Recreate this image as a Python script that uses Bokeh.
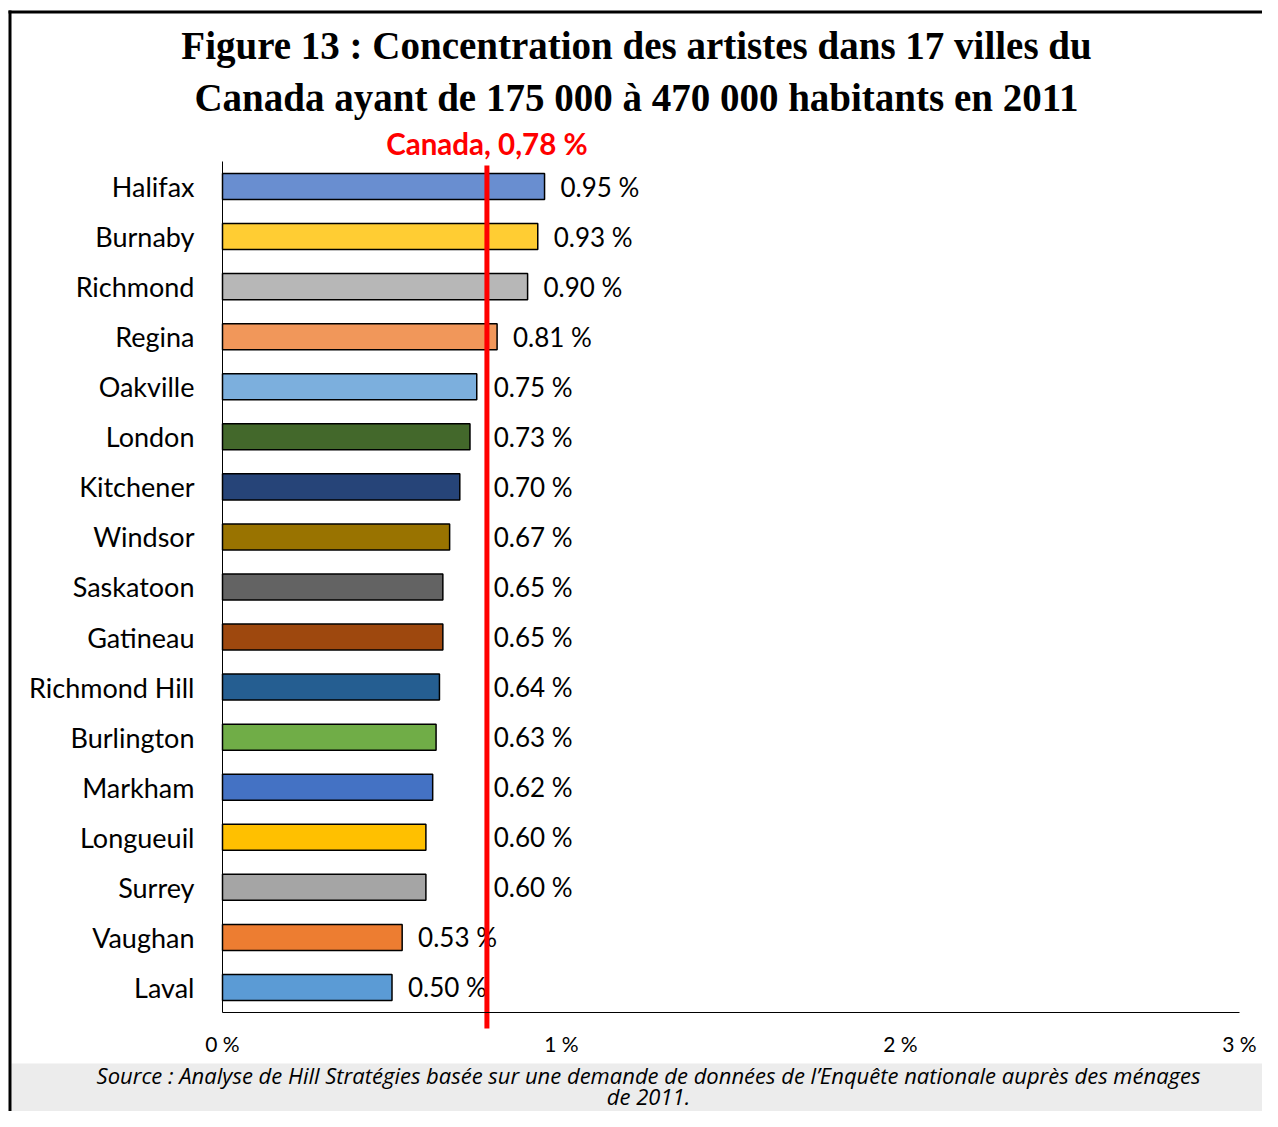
from bokeh.plotting import figure
from bokeh.models import ColumnDataSource, Range1d, FixedTicker, Label, BoxAnnotation
from bokeh.core.properties import value
from bokeh.embed import file_html
from bokeh.resources import INLINE

# ---------------- data ----------------
cities = ["Halifax", "Burnaby", "Richmond", "Regina", "Oakville", "London",
          "Kitchener", "Windsor", "Saskatoon", "Gatineau", "Richmond Hill",
          "Burlington", "Markham", "Longueuil", "Surrey", "Vaughan", "Laval"]
shares = [0.95, 0.93, 0.90, 0.81, 0.75, 0.73, 0.70, 0.67, 0.65, 0.65, 0.64,
          0.63, 0.62, 0.60, 0.60, 0.53, 0.50]
colors = ["#698ED0", "#FFCD33", "#B7B7B7", "#F1975A", "#7CAFDD", "#43682B",
          "#264478", "#997300", "#636363", "#9E480E", "#255E91", "#70AD47",
          "#4472C4", "#FFC000", "#A5A5A5", "#ED7D31", "#5B9BD5"]
canada_share = 0.78
canada_label = "Canada, 0,78 %"
x_ticks = [0, 1, 2, 3]
x_tick_labels = ["0 %", "1 %", "2 %", "3 %"]
title_lines = ["Figure 13 : Concentration des artistes dans 17 villes du",
               "Canada ayant de 175 000 à 470 000 habitants en 2011"]
source_lines = ["Source : Analyse de Hill Stratégies basée sur une demande de données de l\u2019Enquête nationale auprès des ménages",
                "de 2011."]

# ---------------- layout (pixels) ----------------
W, H = 1262, 1111
X0, XPX = 222.0, 339.0      # pixel of 0 %, pixels per 1 %
Y0, YPX = 186.0, 50.06      # pixel of first bar centre, pixels per bar


def X(px):
    return (px - X0) / XPX


def Y(py):
    return (py - Y0) / YPX


n = len(cities)
pos = list(range(n))
label_x = [max(v + 0.047, canada_share + 0.02) if v >= 0.6 else v + 0.047
           for v in shares]
label_text = ["%.2f %%" % v for v in shares]

src = ColumnDataSource(dict(pos=pos, share=shares, color=colors,
                            lx=label_x, lt=label_text))

p = figure(width=W, height=H, x_range=Range1d(X(0), X(W)),
           y_range=Range1d(Y(H), Y(0)), min_border=0,
           title_location=None, output_backend="svg", toolbar_location=None)
p.outline_line_color = None
p.xgrid.grid_line_color = None
p.ygrid.grid_line_color = None
p.background_fill_color = "white"
p.border_fill_color = "white"

# source box background and outer frame lines
p.add_layout(BoxAnnotation(left=11, right=W, top=H - 1063, bottom=0,
                           left_units="screen", right_units="screen",
                           top_units="screen", bottom_units="screen",
                           fill_color="#ECECEC", fill_alpha=1.0,
                           line_color=None, level="underlay"))
p.add_layout(BoxAnnotation(left=8, right=W, top=H - 10, bottom=H - 13,
                           left_units="screen", right_units="screen",
                           top_units="screen", bottom_units="screen",
                           fill_color="black", fill_alpha=1.0, line_color=None))
p.add_layout(BoxAnnotation(left=8, right=11, top=H - 10, bottom=0,
                           left_units="screen", right_units="screen",
                           top_units="screen", bottom_units="screen",
                           fill_color="black", fill_alpha=1.0, line_color=None))

# bars
p.hbar(y="pos", left=0, right="share", height=0.52, fill_color="color",
       line_color="black", line_width=1.5, source=src)

# value labels
p.text(x="lx", y="pos", text="lt", source=src, text_align="left",
       text_baseline="middle", text_font=value("Lato"),
       text_font_size=value("26px"), text_color="black")

# Canada reference line + label
p.segment(x0=[canada_share], x1=[canada_share], y0=[Y(165)], y1=[Y(1028)],
          line_color="#FF0000", line_width=5)
p.add_layout(Label(x=canada_share, y=Y(143), text=canada_label,
                   text_align="center", text_baseline="middle",
                   text_font="Lato", text_font_style="bold",
                   text_font_size="29.5px", text_color="#FF0000"))

# axes
ya = p.yaxis[0]
ya.fixed_location = 0
ya.bounds = (-0.5, n - 0.5)
ya.ticker = FixedTicker(ticks=pos)
ya.major_label_overrides = dict(zip(pos, cities))
ya.axis_line_color = "black"
ya.axis_line_width = 1
ya.major_tick_line_color = None
ya.minor_tick_line_color = None
ya.major_label_text_font = "Lato"
ya.major_label_text_font_size = "27px"
ya.major_label_text_color = "black"
ya.major_label_standoff = 22

xa = p.xaxis[0]
xa.fixed_location = n - 0.5
xa.bounds = (0, 3)
xa.ticker = FixedTicker(ticks=x_ticks)
xa.major_label_overrides = dict(zip(x_ticks, x_tick_labels))
xa.axis_line_color = "black"
xa.axis_line_width = 1
xa.major_tick_line_color = None
xa.minor_tick_line_color = None
xa.major_label_text_font = "Lato"
xa.major_label_text_font_size = "21px"
xa.major_label_text_color = "black"
xa.major_label_standoff = 13

# title
for i, t in enumerate(title_lines):
    p.add_layout(Label(x=X(636), y=Y(45 + 52 * i), text=t,
                       text_align="center", text_baseline="middle",
                       text_font="Liberation Serif", text_font_style="bold",
                       text_font_size="39px", text_color="black"))

# source
for i, t in enumerate(source_lines):
    p.add_layout(Label(x=X(648), y=Y(1074 + 21 * i), text=t,
                       text_align="center", text_baseline="middle",
                       text_font="Open Sans", text_font_style="italic",
                       text_font_size="22px", text_color="black"))

open("out.html", "w").write(file_html(p, INLINE))
